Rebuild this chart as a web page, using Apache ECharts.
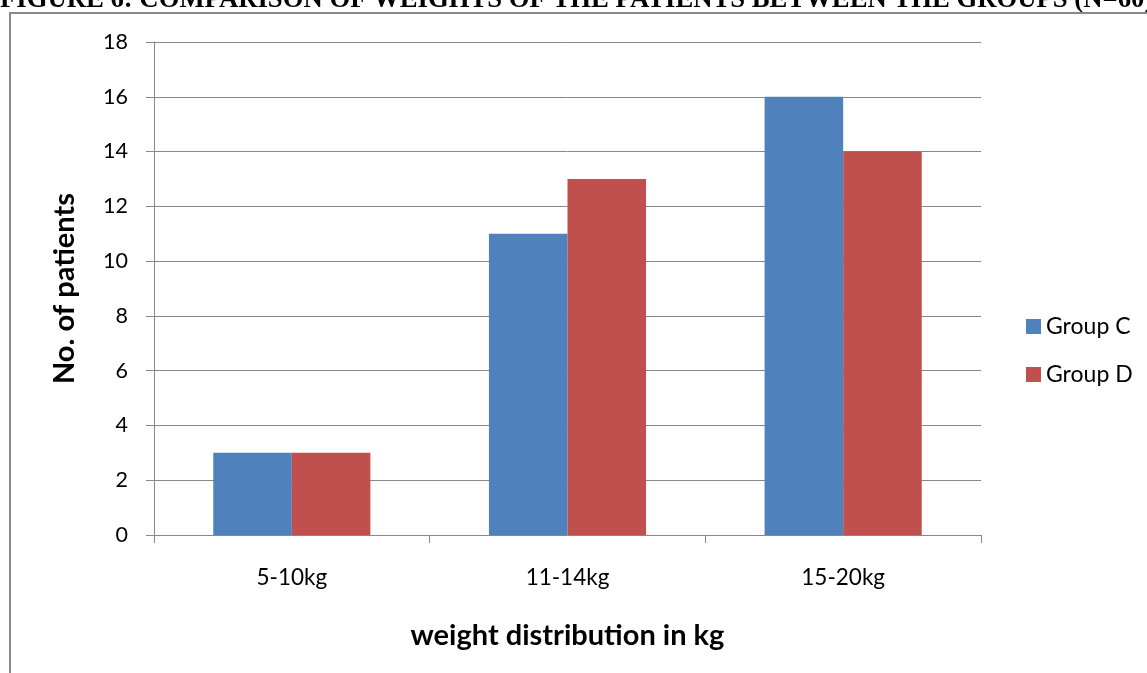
<!DOCTYPE html>
<html>
<head>
<meta charset="utf-8">
<script src="https://cdn.jsdelivr.net/npm/echarts@6/dist/echarts.min.js"></script>
<style>
  html, body { margin: 0; padding: 0; background: #fff; }
  #chart { width: 1147px; height: 673px; }
</style>
</head>
<body>
<div id="chart"></div>
<script>
// Weight bands and patient counts per group
const categories = ['5-10kg', '11-14kg', '15-20kg'];
const groupC = [3, 11, 16];
const groupD = [3, 13, 14];
const seriesNames = ['Group C', 'Group D'];
const yTicks = { min: 0, max: 18, interval: 2 };

const axisGrey = '#888888';
const font = 'Lato, "Open Sans", sans-serif';

const chart = echarts.init(document.getElementById('chart'), null, { renderer: 'canvas' });

chart.setOption({
  backgroundColor: '#ffffff',
  animation: false,
  graphic: [
    {
      type: 'text',
      left: 0,
      top: -13,
      style: {
        text: 'FIGURE 6: COMPARISON OF WEIGHTS OF THE PATIENTS BETWEEN THE GROUPS (N=60)',
        font: 'bold 26.7px "Liberation Serif", "Times New Roman", serif',
        fill: '#000'
      }
    },
    {
      type: 'rect',
      shape: { x: 10, y: 13, width: 1200, height: 700 },
      style: { fill: 'none', stroke: axisGrey, lineWidth: 2 }
    }
  ],
  grid: { left: 154, right: 166, top: 42, bottom: 138 },
  legend: {
    orient: 'vertical',
    left: 1021,
    top: 310,
    itemWidth: 15,
    itemHeight: 15,
    itemGap: 25,
    icon: 'rect',
    textStyle: { fontFamily: font, fontSize: 23, color: '#000' },
    data: seriesNames
  },
  xAxis: {
    type: 'category',
    data: categories,
    name: 'weight distribution in kg',
    nameLocation: 'middle',
    nameGap: 86,
    nameTextStyle: { fontFamily: font, fontSize: 29, fontWeight: 'bold', color: '#000' },
    axisLine: { lineStyle: { color: axisGrey, width: 1 } },
    axisTick: { show: true, alignWithLabel: false, length: 8, lineStyle: { color: axisGrey } },
    axisLabel: { fontFamily: font, fontSize: 22.5, color: '#000', margin: 31 },
    splitLine: { show: false }
  },
  yAxis: {
    type: 'value',
    min: yTicks.min,
    max: yTicks.max,
    interval: yTicks.interval,
    name: 'No. of patients',
    nameLocation: 'middle',
    nameGap: 75,
    nameRotate: 90,
    nameTextStyle: { fontFamily: font, fontSize: 29, fontWeight: 'bold', color: '#000' },
    axisLine: { show: true, lineStyle: { color: axisGrey, width: 1 } },
    axisTick: { show: true, inside: false, length: 8, lineStyle: { color: axisGrey } },
    axisLabel: { fontFamily: font, fontSize: 21.5, color: '#000', margin: 26 },
    splitLine: { show: true, lineStyle: { color: axisGrey, width: 1 } }
  },
  series: [
    {
      name: seriesNames[0],
      type: 'bar',
      data: groupC,
      barGap: '0%',
      barCategoryGap: '43%',
      itemStyle: { color: '#4F81BD' }
    },
    {
      name: seriesNames[1],
      type: 'bar',
      data: groupD,
      barGap: '0%',
      barCategoryGap: '43%',
      itemStyle: { color: '#C0504D' }
    }
  ]
});
</script>
</body>
</html>
